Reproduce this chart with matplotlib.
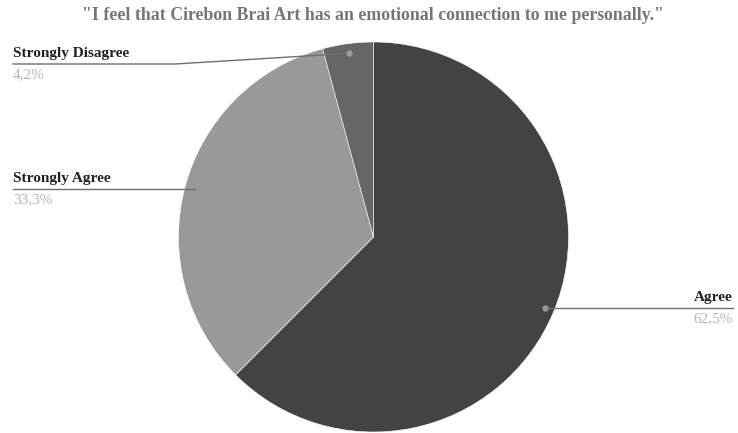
import numpy as np
import matplotlib.pyplot as plt

labels = ["Agree", "Strongly Agree", "Strongly Disagree"]
shares = [62.5, 33.3, 4.2]
pct_text = ["62,5%", "33,3%", "4,2%"]
colors = ["#434343", "#999999", "#666666"]

W, H = 738, 433
fig = plt.figure(figsize=(W / 100, H / 100), dpi=100)
ax = fig.add_axes([0, 0, 1, 1])

cx, cy, r = 373.5, H - 237, 195
ax.pie(shares, colors=colors, startangle=90, counterclock=False,
       center=(cx, cy), radius=r, frame=True,
       wedgeprops=dict(edgecolor="white", linewidth=0.4))
ax.set_xlim(0, W)
ax.set_ylim(0, H)
ax.set_aspect("equal")
ax.axis("off")

fig.text(373 / W, 1 - 16 / H,
         '"I feel that Cirebon Brai Art has an emotional connection to me personally."',
         ha="center", va="center", fontsize=12.8, fontweight="bold",
         color="#767676", family="Liberation Serif")

# anchor dots on each wedge's middle angle
cum = np.cumsum([0] + shares)
mids = 90 - (cum[:-1] + np.array(shares) / 2) * 3.6
anchors = [(cx + 0.95 * r * np.cos(np.radians(a)), cy + 0.95 * r * np.sin(np.radians(a)))
           for a in mids]

line_c = "#6f6f6f"
lab_kw = dict(fontsize=11, fontweight="bold", color="#222222", family="Liberation Serif")
pct_kw = dict(fontsize=11, color="#b5b5b5", family="Liberation Serif")

# Agree: right side
ax_, ay_ = anchors[0]
ly = ay_
ax.plot([ax_, 733], [ly, ly], color=line_c, lw=1)
ax.plot(ax_, ay_, "o", ms=3.5, color="#9a9a9a", zorder=5)
ax.text(733, ly + 4, labels[0], ha="right", va="bottom", **lab_kw)
ax.text(733, ly - 4, pct_text[0], ha="right", va="top", **pct_kw)

# Strongly Agree: left side
sx, sy = anchors[1]
ax.plot([13, sx], [sy, sy], color=line_c, lw=1)
ax.text(13, sy + 4, labels[1], ha="left", va="bottom", **lab_kw)
ax.text(13, sy - 4, pct_text[1], ha="left", va="top", **pct_kw)

# Strongly Disagree: upper left, bent leader
dx, dy = anchors[2]
ly = H - 64
ax.plot([13, 175, dx], [ly, ly, dy], color=line_c, lw=1)
ax.plot(dx, dy, "o", ms=3.5, color="#9a9a9a", zorder=5)
ax.text(13, ly + 4, labels[2], ha="left", va="bottom", **lab_kw)
ax.text(13, ly - 4, pct_text[2], ha="left", va="top", **pct_kw)

fig.savefig("out.png", dpi=100, facecolor="white")
